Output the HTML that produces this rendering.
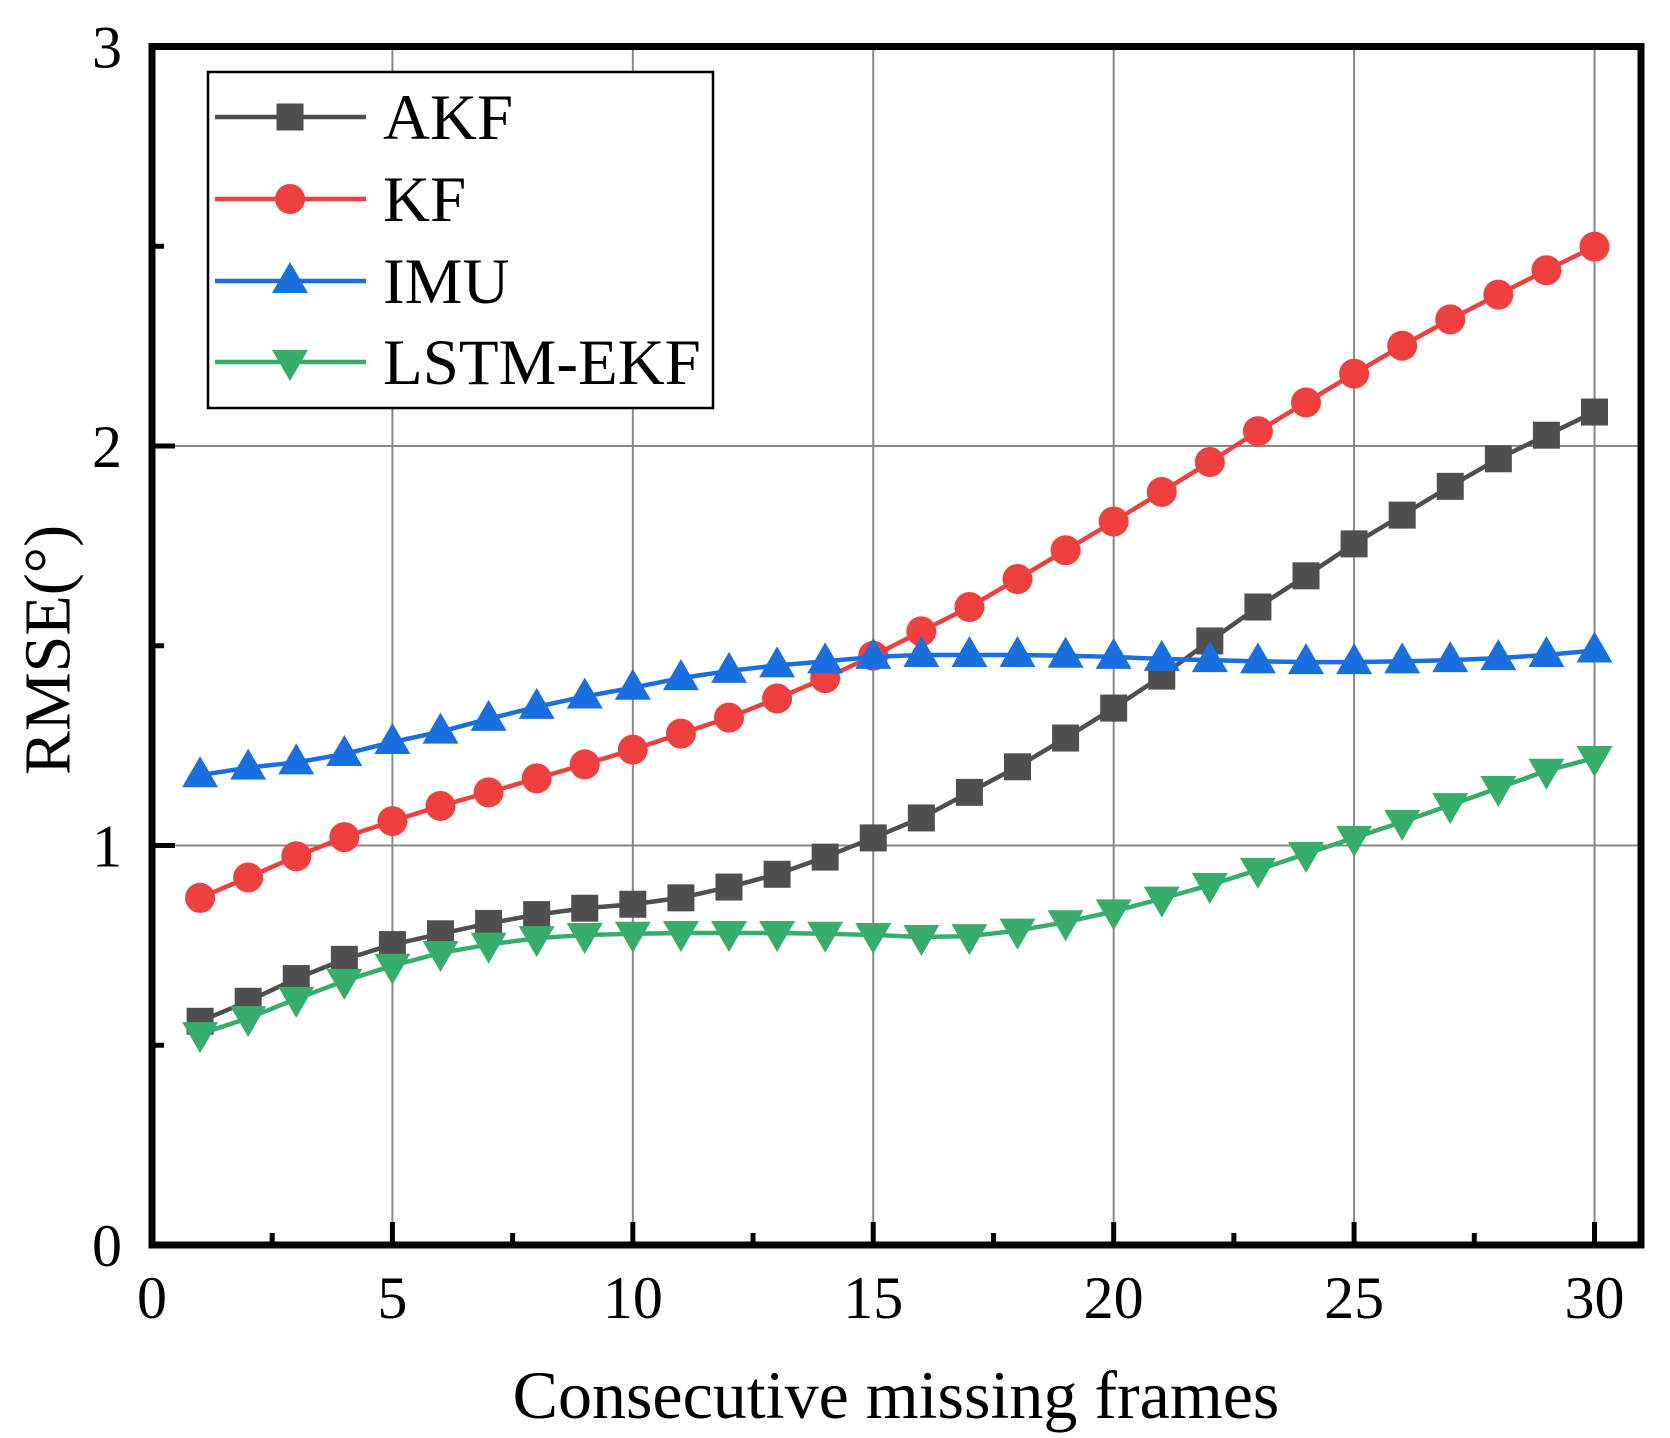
<!DOCTYPE html>
<html><head><meta charset="utf-8"><style>
html,body{margin:0;padding:0;background:#fff;}
svg{display:block;font-family:"Liberation Serif",serif;}
</style></head><body>
<svg id="chart" width="1670" height="1438" viewBox="0 0 1670 1438">
<g id="grid"></g>
<g id="series"></g>
<g id="axes"></g>
<g id="legend"></g>
<text x="48" y="650" font-size="66" text-anchor="middle" transform="rotate(-90 48 650)" dominant-baseline="central">RMSE(°)</text>
<text x="896" y="1418" font-size="68" text-anchor="middle">Consecutive missing frames</text>
</svg>
<script>
const frames = [1,2,3,4,5,6,7,8,9,10,11,12,13,14,15,16,17,18,19,20,21,22,23,24,25,26,27,28,29,30];
const akf = [0.56,0.61,0.667,0.715,0.752,0.779,0.805,0.827,0.843,0.853,0.869,0.896,0.928,0.971,1.019,1.069,1.133,1.197,1.269,1.344,1.424,1.512,1.597,1.675,1.755,1.827,1.899,1.968,2.027,2.085];
const kf = [0.869,0.92,0.973,1.021,1.061,1.099,1.133,1.168,1.203,1.24,1.28,1.32,1.368,1.419,1.475,1.536,1.597,1.667,1.739,1.811,1.885,1.96,2.037,2.109,2.181,2.251,2.317,2.379,2.44,2.499];
const imu = [1.176,1.195,1.208,1.229,1.259,1.285,1.317,1.347,1.373,1.395,1.419,1.437,1.451,1.461,1.472,1.477,1.477,1.477,1.475,1.472,1.467,1.464,1.461,1.459,1.459,1.461,1.464,1.469,1.477,1.488];
const lstm = [0.528,0.568,0.616,0.661,0.699,0.731,0.752,0.768,0.776,0.779,0.781,0.781,0.781,0.779,0.776,0.771,0.773,0.787,0.808,0.835,0.867,0.901,0.939,0.979,1.019,1.059,1.101,1.144,1.187,1.219];
const xTicks = [0,5,10,15,20,25,30];
const yTicks = [0,1,2,3];
const seriesNames = ["AKF","KF","IMU","LSTM-EKF"];

const NS="http://www.w3.org/2000/svg";
const X0=152,X1=1641,Y0=1245,Y1=46.5;
const xs=v=>X0+v*(1594.5-152)/30;
const ys=v=>Y0-v*(Y0-Y1)/3;
function mk(tag,attrs,parent){const e=document.createElementNS(NS,tag);for(const k in attrs)e.setAttribute(k,attrs[k]);parent.appendChild(e);return e;}
const grid=document.getElementById('grid'),axes=document.getElementById('axes'),ser=document.getElementById('series'),leg=document.getElementById('legend');

xTicks.forEach(t=>{if(t>0&&t<31){const l=mk('line',{x1:xs(t),x2:xs(t),y1:Y0,y2:Y1,stroke:'#888','stroke-width':2},grid);

}});
yTicks.forEach(t=>{if(t>0&&t<3){const l=mk('line',{x1:X0,x2:X1,y1:ys(t),y2:ys(t),stroke:'#888','stroke-width':2},grid);

}});

const colors=['#4f4f4f','#ef4040','#1a6fdf','#37ad6b'];
const data=[akf,kf,imu,lstm];
function marker(kind,cx,cy,color,parent){
  if(kind===0) return mk('rect',{x:cx-13.5,y:cy-13.5,width:27,height:27,fill:color},parent);
  if(kind===1) return mk('circle',{cx:cx,cy:cy,r:15,fill:color},parent);
  if(kind===2) return mk('polygon',{points:`${cx},${cy-19} ${cx-18},${cy+12} ${cx+18},${cy+12}`,fill:color},parent);
  return mk('polygon',{points:`${cx},${cy+19} ${cx-18},${cy-12} ${cx+18},${cy-12}`,fill:color},parent);
}
data.forEach((arr,si)=>{
  const g=mk('g',{},ser);
  
  
  const p=mk('polyline',{points:arr.map((v,i)=>xs(frames[i])+','+ys(v)).join(' '),fill:'none',stroke:colors[si],'stroke-width':4.5,'stroke-linejoin':'round'},g);
  
  
  arr.forEach((v,i)=>{const m=marker(si,xs(frames[i]),ys(v),colors[si],g);
    
    });
});

const fr=mk('rect',{x:X0,y:Y1,width:X1-X0,height:Y0-Y1,fill:'none',stroke:'#000','stroke-width':7},axes);


xTicks.forEach(t=>{
  const tk=mk('line',{x1:xs(t),x2:xs(t),y1:Y0,y2:Y0-23,stroke:'#000','stroke-width':5},axes);
  
  
  const lb=mk('text',{x:xs(t),y:1318,'font-size':60,'text-anchor':'middle'},axes);lb.textContent=t;
  
  
  if(t<30){const mt=mk('line',{x1:xs(t+2.5),x2:xs(t+2.5),y1:Y0,y2:Y0-12,stroke:'#000','stroke-width':5},axes);
  
  }
});
yTicks.forEach(t=>{
  const tk=mk('line',{x1:X0,x2:X0+23,y1:ys(t),y2:ys(t),stroke:'#000','stroke-width':5},axes);
  
  
  const lb=mk('text',{x:122,y:ys(t)+21,'font-size':60,'text-anchor':'end'},axes);lb.textContent=t;
  
  
  if(t<3){const mt=mk('line',{x1:X0,x2:X0+12,y1:ys(t+0.5),y2:ys(t+0.5),stroke:'#000','stroke-width':5},axes);
  
  }
});

const lbox=mk('rect',{x:208,y:72,width:505,height:336,fill:'#fff',stroke:'#000','stroke-width':2.5},leg);


const ly=[117,199,281,362];
seriesNames.forEach((n,i)=>{
  const g=mk('g',{},leg);
  
  
  mk('line',{x1:215,x2:366,y1:ly[i],y2:ly[i],stroke:colors[i],'stroke-width':4.5},g);
  marker(i,290,ly[i],colors[i],g);
  const t=mk('text',{x:383,y:ly[i]+22,'font-size':65},g);t.textContent=n;
});
</script>
</body></html>
